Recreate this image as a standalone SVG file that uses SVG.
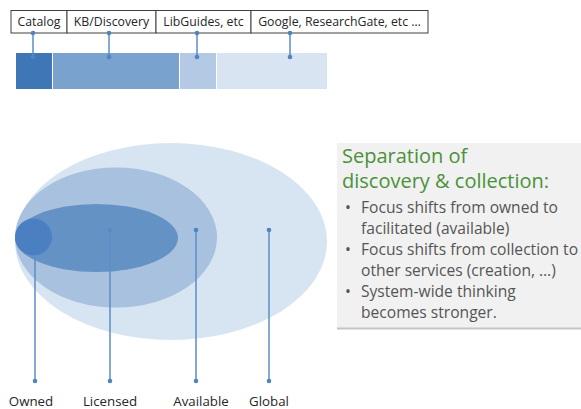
<svg xmlns="http://www.w3.org/2000/svg" width="581" height="409" viewBox="0 0 581 409">
<style>
.lbl{font-family:"Open Sans","Liberation Sans",sans-serif;fill:#262626;text-anchor:middle}
.top{font-size:12.3px}
.bot{font-size:13.3px}
.cell{fill:#ffffff;stroke:#404040;stroke-width:1}
.conn{stroke:#5b8ec6;stroke-width:1.5;fill:none}
.dot{fill:#4f84bf}
.title{font-family:"Open Sans","Liberation Sans",sans-serif;font-size:20px;fill:#4a9238}
.body{font-family:"Open Sans","Liberation Sans",sans-serif;font-size:15.6px;fill:#555555}
</style>
<rect width="581" height="409" fill="#ffffff"/>
<g id="bar">
<rect x="16" y="53" width="36" height="36" fill="#3f76b6"/>
<rect x="53" y="53" width="126" height="36" fill="#7aa2cf"/>
<rect x="180" y="53" width="36" height="36" fill="#b4cae4"/>
<rect x="217" y="53" width="110" height="36" fill="#d8e4f1"/>
</g>
<g id="header">
<rect class="cell" x="11" y="10.5" width="56" height="22.5"/>
<rect class="cell" x="67" y="10.5" width="89" height="22.5"/>
<rect class="cell" x="156" y="10.5" width="95" height="22.5"/>
<rect class="cell" x="251" y="10.5" width="177" height="22.5"/>
<text class="lbl top" x="39" y="26">Catalog</text>
<text class="lbl top" x="111.5" y="26">KB/Discovery</text>
<text class="lbl top" x="203.5" y="26">LibGuides, etc</text>
<text class="lbl top" x="339.5" y="26">Google, ResearchGate, etc …</text>
</g>
<g id="global">
<ellipse cx="171" cy="241.5" rx="156" ry="98.5" fill="#d7e4f1"/>
</g>
<g id="available">
<ellipse cx="116" cy="237.5" rx="101" ry="70" fill="#a8c1df"/>
</g>
<g id="licensed">
<ellipse cx="96.5" cy="238" rx="81.5" ry="34" fill="#6592c5"/>
</g>
<g id="owned">
<circle cx="33.5" cy="237" r="18.5" fill="#4a80c2"/>
</g>
<g id="connectors">
<line class="conn" x1="33" y1="33" x2="33" y2="57"/>
<line class="conn" x1="109" y1="33" x2="109" y2="57"/>
<line class="conn" x1="197" y1="33" x2="197" y2="57"/>
<line class="conn" x1="290" y1="33" x2="290" y2="57"/>
<circle class="dot" cx="33" cy="33" r="2.3"/><circle class="dot" cx="33" cy="57" r="2.3"/>
<circle class="dot" cx="109" cy="33" r="2.3"/><circle class="dot" cx="109" cy="57" r="2.3"/>
<circle class="dot" cx="197" cy="33" r="2.3"/><circle class="dot" cx="197" cy="57" r="2.3"/>
<circle class="dot" cx="290" cy="33" r="2.3"/><circle class="dot" cx="290" cy="57" r="2.3"/>
<line class="conn" x1="35" y1="255" x2="35" y2="381"/>
<line class="conn" x1="110" y1="230" x2="110" y2="381"/>
<line class="conn" x1="196" y1="230" x2="196" y2="381"/>
<line class="conn" x1="269" y1="230" x2="269" y2="381"/>
<circle class="dot" cx="35" cy="381" r="2.3"/>
<circle class="dot" cx="110" cy="230" r="2.3" fill-opacity="0.5"/><circle class="dot" cx="110" cy="381" r="2.3"/>
<circle class="dot" cx="196" cy="230" r="2.3"/><circle class="dot" cx="196" cy="381" r="2.3"/>
<circle class="dot" cx="269" cy="230" r="2.3"/><circle class="dot" cx="269" cy="381" r="2.3"/>
</g>
<g id="labels">
<text class="lbl bot" x="31" y="406">Owned</text>
<text class="lbl bot" x="110" y="406">Licensed</text>
<text class="lbl bot" x="201" y="406">Available</text>
<text class="lbl bot" x="269" y="406">Global</text>
</g>
<g id="textbox">
<rect x="337" y="143" width="244" height="186" fill="#f1f1f1"/>
<rect x="337" y="327.5" width="244" height="2" fill="#c4c4c4"/>
<text class="title" x="342" y="162.5">Separation of</text>
<text class="title" x="342" y="188">discovery &amp; collection:</text>
<text class="body" x="345" y="213">•</text><text class="body" x="361" y="213">Focus shifts from owned to</text>
<text class="body" x="361" y="234">facilitated (available)</text>
<text class="body" x="345" y="255">•</text><text class="body" x="361" y="255">Focus shifts from collection to</text>
<text class="body" x="361" y="276">other services (creation, …)</text>
<text class="body" x="345" y="297">•</text><text class="body" x="361" y="297">System-wide thinking</text>
<text class="body" x="361" y="318">becomes stronger.</text>
</g>
</svg>
